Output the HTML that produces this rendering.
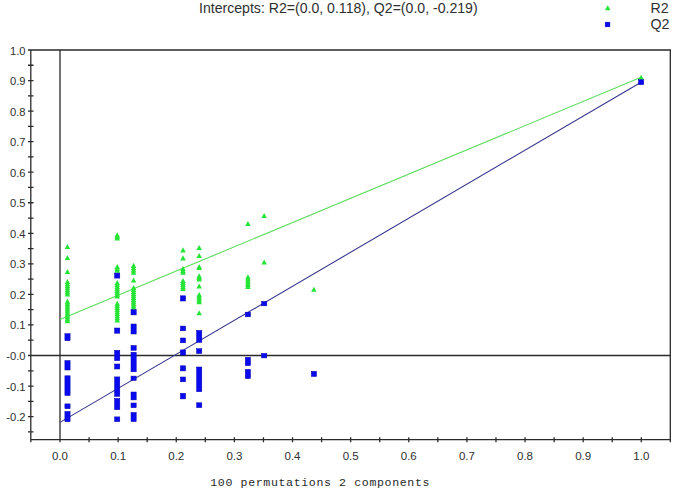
<!DOCTYPE html><html><head><meta charset="utf-8"><style>html,body{margin:0;padding:0;background:#fff;}body{width:685px;height:503px;overflow:hidden;position:relative;}svg{position:absolute;left:0;top:0;}text{font-family:"Liberation Sans",sans-serif;fill:#303030;}</style></head><body>
<svg width="685" height="503" viewBox="0 0 685 503">
<text x="199" y="12.8" font-size="14.1">Intercepts: R2=(0.0, 0.118), Q2=(0.0, -0.219)</text>
<polygon points="607.7,5.2 610.5,10.2 604.9,10.2" fill="#26e436"/>
<rect x="605.2" y="22.2" width="4.7" height="4.6" fill="#0a0af0" stroke="#0000b0" stroke-width="0.5"/>
<text x="650.5" y="12.7" font-size="14.2">R2</text>
<text x="650.5" y="29.4" font-size="14.2">Q2</text>
<path d="M28.0,50.0H670.3V442.2 M30.8,50.0V442.2 M30.8,439.7H670.3 M60.0,50.0V442.2 M30.8,355.5H670.3 M28.0,431.88H33.5 M28.0,416.60H33.5 M28.0,401.32H33.5 M28.0,386.05H33.5 M28.0,370.78H33.5 M28.0,355.50H33.5 M28.0,340.22H33.5 M28.0,324.95H33.5 M28.0,309.68H33.5 M28.0,294.40H33.5 M28.0,279.12H33.5 M28.0,263.85H33.5 M28.0,248.57H33.5 M28.0,233.30H33.5 M28.0,218.03H33.5 M28.0,202.75H33.5 M28.0,187.47H33.5 M28.0,172.20H33.5 M28.0,156.93H33.5 M28.0,141.65H33.5 M28.0,126.38H33.5 M28.0,111.10H33.5 M28.0,95.82H33.5 M28.0,80.55H33.5 M28.0,65.27H33.5 M89.06,437.2V442.2 M118.13,437.2V442.2 M147.19,437.2V442.2 M176.26,437.2V442.2 M205.32,437.2V442.2 M234.39,437.2V442.2 M263.46,437.2V442.2 M292.52,437.2V442.2 M321.58,437.2V442.2 M350.65,437.2V442.2 M379.71,437.2V442.2 M408.78,437.2V442.2 M437.84,437.2V442.2 M466.91,437.2V442.2 M495.97,437.2V442.2 M525.04,437.2V442.2 M554.11,437.2V442.2 M583.17,437.2V442.2 M612.24,437.2V442.2 M641.30,437.2V442.2" stroke="#2a2a2a" stroke-width="1.3" fill="none"/>
<text x="25.6" y="54.50" font-size="11.2" text-anchor="end">1.0</text>
<text x="25.6" y="85.05" font-size="11.2" text-anchor="end">0.9</text>
<text x="25.6" y="115.60" font-size="11.2" text-anchor="end">0.8</text>
<text x="25.6" y="146.15" font-size="11.2" text-anchor="end">0.7</text>
<text x="25.6" y="176.70" font-size="11.2" text-anchor="end">0.6</text>
<text x="25.6" y="207.25" font-size="11.2" text-anchor="end">0.5</text>
<text x="25.6" y="237.80" font-size="11.2" text-anchor="end">0.4</text>
<text x="25.6" y="268.35" font-size="11.2" text-anchor="end">0.3</text>
<text x="25.6" y="298.90" font-size="11.2" text-anchor="end">0.2</text>
<text x="25.6" y="329.45" font-size="11.2" text-anchor="end">0.1</text>
<text x="25.6" y="360.00" font-size="11.2" text-anchor="end">-0.0</text>
<text x="25.6" y="390.55" font-size="11.2" text-anchor="end">-0.1</text>
<text x="25.6" y="421.10" font-size="11.2" text-anchor="end">-0.2</text>
<text x="60.00" y="459.6" font-size="11.5" text-anchor="middle">0.0</text>
<text x="118.13" y="459.6" font-size="11.5" text-anchor="middle">0.1</text>
<text x="176.26" y="459.6" font-size="11.5" text-anchor="middle">0.2</text>
<text x="234.39" y="459.6" font-size="11.5" text-anchor="middle">0.3</text>
<text x="292.52" y="459.6" font-size="11.5" text-anchor="middle">0.4</text>
<text x="350.65" y="459.6" font-size="11.5" text-anchor="middle">0.5</text>
<text x="408.78" y="459.6" font-size="11.5" text-anchor="middle">0.6</text>
<text x="466.91" y="459.6" font-size="11.5" text-anchor="middle">0.7</text>
<text x="525.04" y="459.6" font-size="11.5" text-anchor="middle">0.8</text>
<text x="583.17" y="459.6" font-size="11.5" text-anchor="middle">0.9</text>
<text x="641.30" y="459.6" font-size="11.5" text-anchor="middle">1.0</text>
<text x="210.3" y="485.8" font-size="11.6" letter-spacing="0.62" style="font-family:'Liberation Mono',monospace;fill:#2a2a2a">100 permutations 2 components</text>
<line x1="60.0" y1="319.45" x2="641.1" y2="77.3" stroke="#5cdc5c" stroke-width="1.1"/>
<line x1="60.0" y1="422.40" x2="641.1" y2="82.2" stroke="#383890" stroke-width="1.1"/>
<path d="M67.4,244.0L70.2,249.1L64.7,249.1ZM67.4,255.0L70.2,260.1L64.7,260.1ZM67.4,269.0L70.2,274.1L64.7,274.1ZM67.4,279.0L70.2,284.1L64.7,284.1ZM67.4,281.1L70.2,286.2L64.7,286.2ZM67.4,283.1L70.2,288.2L64.7,288.2ZM67.4,285.2L70.2,290.3L64.7,290.3ZM67.4,287.3L70.2,292.4L64.7,292.4ZM67.4,289.3L70.2,294.4L64.7,294.4ZM67.4,291.4L70.2,296.5L64.7,296.5ZM67.4,298.6L70.2,303.7L64.7,303.7ZM67.4,300.6L70.2,305.7L64.7,305.7ZM67.4,302.5L70.2,307.6L64.7,307.6ZM67.4,304.4L70.2,309.6L64.7,309.6ZM67.4,306.4L70.2,311.5L64.7,311.5ZM67.4,308.4L70.2,313.5L64.7,313.5ZM67.4,310.3L70.2,315.4L64.7,315.4ZM67.4,312.2L70.2,317.4L64.7,317.4ZM67.4,314.2L70.2,319.3L64.7,319.3ZM67.4,316.1L70.2,321.2L64.7,321.2ZM67.4,318.1L70.2,323.2L64.7,323.2ZM117.2,232.2L120.0,237.3L114.5,237.3ZM117.2,233.8L120.0,238.9L114.5,238.9ZM117.2,235.4L120.0,240.5L114.5,240.5ZM117.2,264.0L120.0,269.1L114.5,269.1ZM117.2,265.8L120.0,270.9L114.5,270.9ZM117.2,267.6L120.0,272.7L114.5,272.7ZM117.2,279.9L120.0,285.0L114.5,285.0ZM117.2,281.8L120.0,286.9L114.5,286.9ZM117.2,283.8L120.0,288.9L114.5,288.9ZM117.2,285.7L120.0,290.8L114.5,290.8ZM117.2,287.7L120.0,292.8L114.5,292.8ZM117.2,289.6L120.0,294.7L114.5,294.7ZM117.2,291.6L120.0,296.7L114.5,296.7ZM117.2,293.5L120.0,298.6L114.5,298.6ZM117.2,300.6L120.0,305.7L114.5,305.7ZM117.2,302.7L120.0,307.8L114.5,307.8ZM117.2,304.8L120.0,309.9L114.5,309.9ZM117.2,306.9L120.0,312.0L114.5,312.0ZM117.2,308.9L120.0,314.1L114.5,314.1ZM117.2,311.0L120.0,316.1L114.5,316.1ZM117.2,313.1L120.0,318.2L114.5,318.2ZM117.2,315.2L120.0,320.3L114.5,320.3ZM117.2,317.3L120.0,322.4L114.5,322.4ZM133.6,262.8L136.3,267.9L130.8,267.9ZM133.6,265.1L136.3,270.2L130.8,270.2ZM133.6,267.3L136.3,272.4L130.8,272.4ZM133.6,269.6L136.3,274.7L130.8,274.7ZM133.6,277.5L136.3,282.6L130.8,282.6ZM133.6,285.0L136.3,290.1L130.8,290.1ZM133.6,287.0L136.3,292.1L130.8,292.1ZM133.6,288.9L136.3,294.0L130.8,294.0ZM133.6,290.9L136.3,296.0L130.8,296.0ZM133.6,292.8L136.3,297.9L130.8,297.9ZM133.6,294.8L136.3,299.9L130.8,299.9ZM133.6,296.8L136.3,301.9L130.8,301.9ZM133.6,298.7L136.3,303.8L130.8,303.8ZM133.6,300.7L136.3,305.8L130.8,305.8ZM133.6,302.6L136.3,307.7L130.8,307.7ZM133.6,304.6L136.3,309.7L130.8,309.7ZM183.0,247.3L185.8,252.4L180.2,252.4ZM183.0,255.3L185.8,260.4L180.2,260.4ZM183.0,266.0L185.8,271.1L180.2,271.1ZM183.0,267.9L185.8,273.0L180.2,273.0ZM183.0,269.7L185.8,274.8L180.2,274.8ZM183.0,278.0L185.8,283.1L180.2,283.1ZM183.0,280.0L185.8,285.1L180.2,285.1ZM183.0,282.0L185.8,287.1L180.2,287.1ZM183.0,284.0L185.8,289.1L180.2,289.1ZM183.0,286.0L185.8,291.1L180.2,291.1ZM199.2,244.9L201.9,250.0L196.4,250.0ZM199.2,252.9L201.9,258.0L196.4,258.0ZM199.2,264.0L201.9,269.1L196.4,269.1ZM199.2,264.9L201.9,270.0L196.4,270.0ZM199.2,273.2L201.9,278.3L196.4,278.3ZM199.2,274.8L201.9,279.9L196.4,279.9ZM199.2,276.4L201.9,281.5L196.4,281.5ZM199.2,283.5L201.9,288.6L196.4,288.6ZM199.2,291.9L201.9,297.0L196.4,297.0ZM199.2,293.7L201.9,298.8L196.4,298.8ZM199.2,295.5L201.9,300.6L196.4,300.6ZM199.2,297.3L201.9,302.4L196.4,302.4ZM199.2,299.1L201.9,304.2L196.4,304.2ZM199.2,310.2L201.9,315.3L196.4,315.3ZM247.9,220.9L250.7,226.0L245.2,226.0ZM247.9,274.2L250.7,279.3L245.2,279.3ZM247.9,276.2L250.7,281.3L245.2,281.3ZM247.9,278.1L250.7,283.2L245.2,283.2ZM247.9,280.1L250.7,285.2L245.2,285.2ZM247.9,282.0L250.7,287.1L245.2,287.1ZM247.9,284.0L250.7,289.1L245.2,289.1ZM264.2,213.0L266.9,218.1L261.4,218.1ZM264.2,259.5L266.9,264.6L261.4,264.6ZM313.9,286.7L316.6,291.8L311.1,291.8ZM641.1,74.7L643.9,79.8L638.4,79.8Z" fill="#26e436"/>
<g fill="#0a0af0" stroke="#0000b0" stroke-width="0.5"><rect x="64.9" y="333.7" width="5.2" height="7.0"/><rect x="64.9" y="360.6" width="5.2" height="9.4"/><rect x="64.9" y="375.8" width="5.2" height="19.7"/><rect x="64.9" y="403.9" width="5.2" height="4.8"/><rect x="64.9" y="411.4" width="5.2" height="10.3"/><rect x="114.6" y="273.1" width="5.2" height="5.0"/><rect x="114.6" y="328.0" width="5.2" height="5.2"/><rect x="114.6" y="350.3" width="5.2" height="10.3"/><rect x="114.6" y="364.0" width="5.2" height="5.0"/><rect x="114.6" y="376.9" width="5.2" height="19.5"/><rect x="114.6" y="398.4" width="5.2" height="11.3"/><rect x="114.6" y="416.9" width="5.2" height="4.7"/><rect x="131.0" y="309.7" width="5.2" height="5.2"/><rect x="131.0" y="324.0" width="5.2" height="10.0"/><rect x="131.0" y="345.5" width="5.2" height="4.8"/><rect x="131.0" y="352.3" width="5.2" height="19.5"/><rect x="131.0" y="376.1" width="5.2" height="4.4"/><rect x="131.0" y="392.0" width="5.2" height="7.9"/><rect x="131.0" y="403.0" width="5.2" height="4.7"/><rect x="131.0" y="412.5" width="5.2" height="9.1"/><rect x="180.4" y="295.8" width="5.2" height="5.2"/><rect x="180.4" y="326.1" width="5.2" height="4.7"/><rect x="180.4" y="338.0" width="5.2" height="4.8"/><rect x="180.4" y="349.9" width="5.2" height="5.2"/><rect x="180.4" y="365.8" width="5.2" height="5.1"/><rect x="180.4" y="377.0" width="5.2" height="4.8"/><rect x="180.4" y="393.3" width="5.2" height="5.6"/><rect x="196.6" y="330.4" width="5.2" height="12.0"/><rect x="196.6" y="348.7" width="5.2" height="4.8"/><rect x="196.6" y="367.0" width="5.2" height="24.7"/><rect x="196.6" y="402.8" width="5.2" height="4.8"/><rect x="245.3" y="312.2" width="5.2" height="4.6"/><rect x="245.3" y="357.3" width="5.2" height="8.3"/><rect x="245.3" y="369.4" width="5.2" height="9.2"/><rect x="261.6" y="301.4" width="5.2" height="4.4"/><rect x="261.6" y="353.4" width="5.2" height="4.5"/><rect x="311.3" y="371.3" width="5.2" height="5.2"/><rect x="638.5" y="79.7" width="5.2" height="5.0"/></g>
</svg></body></html>
